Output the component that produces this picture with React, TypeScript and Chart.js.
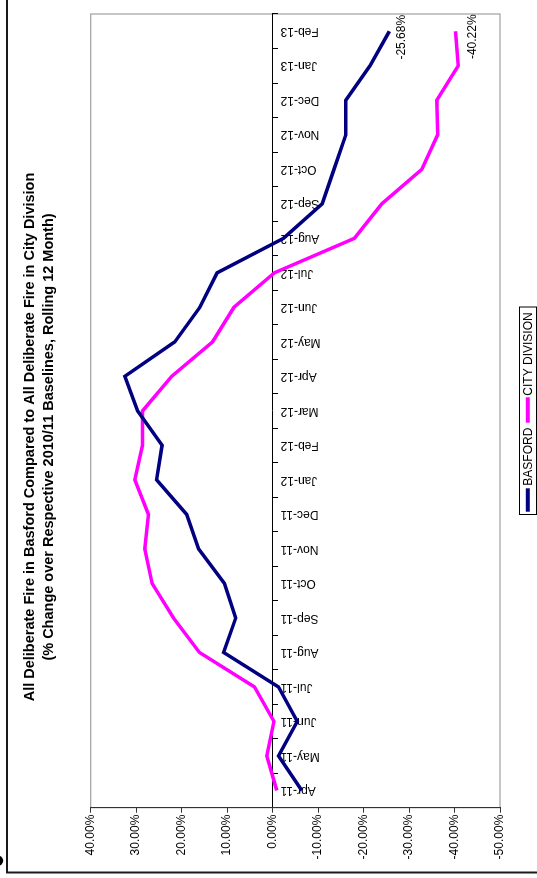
import { useEffect, useRef } from 'react';
import { Chart, registerables } from 'chart.js';

Chart.register(...registerables);

// ---- Data ----
const categories = [
  'Apr-11', 'May-11', 'Jun-11', 'Jul-11', 'Aug-11', 'Sep-11', 'Oct-11', 'Nov-11',
  'Dec-11', 'Jan-12', 'Feb-12', 'Mar-12', 'Apr-12', 'May-12', 'Jun-12', 'Jul-12',
  'Aug-12', 'Sep-12', 'Oct-12', 'Nov-12', 'Dec-12', 'Jan-13', 'Feb-13',
];
const basford = [
  -6.4, -1.3, -5.4, -1.3, 10.8, 8.1, 10.6, 16.3, 18.9, 25.5, 24.3, 29.7,
  32.5, 21.5, 16.0, 12.2, -2.4, -10.9, -13.5, -16.1, -16.1, -21.4, -25.68,
];
const cityDivision = [
  -0.9, 1.3, -0.3, 4.0, 16.1, 21.8, 26.5, 28.1, 27.3, 30.3, 28.6, 28.6,
  22.2, 13.2, 8.5, -0.4, -18.0, -24.0, -32.8, -36.3, -36.1, -40.8, -40.22,
];
const seriesNames = ['BASFORD', 'CITY DIVISION'];
const seriesColors = ['#000080', '#FF00FF'];
const valueMin = -50;
const valueMax = 40;
const valueStep = 10;
const titleLines = [
  'All Deliberate Fire in Basford Compared to All Deliberate Fire in City Division',
  '(% Change over Respective 2010/11 Baselines, Rolling 12 Month)',
];

const W = 878;
const H = 537;
const FONT = '"Liberation Sans", Arial, Helvetica, sans-serif';

const backgroundPlugin = {
  id: 'bgFrame',
  beforeDraw(chart: any) {
    const ctx = chart.ctx as CanvasRenderingContext2D;
    const { left, top, right, bottom } = chart.chartArea;
    ctx.save();
    ctx.fillStyle = '#ffffff';
    ctx.fillRect(0, 0, W, H);
    // outer frame (partly cropped in the reference)
    ctx.strokeStyle = '#1a1a1a';
    ctx.lineWidth = 2;
    ctx.strokeRect(5.5, 7, W + 40, H + 40);
    // small clipped blob at the top-left
    ctx.fillStyle = '#000';
    ctx.beginPath();
    ctx.arc(17.3, -1.7, 5, 0, Math.PI * 2);
    ctx.fill();
    // plot area border
    ctx.strokeStyle = '#a0a0a0';
    ctx.lineWidth = 1.2;
    ctx.strokeRect(left, top, right - left, bottom - top);
    ctx.restore();
  },
};

const labelOffsets = [
  { dx: -6, dy: 12 },
  { dx: -5.5, dy: 17.5 },
];

const endLabelPlugin = {
  id: 'endLabels',
  afterDatasetsDraw(chart: any) {
    const ctx = chart.ctx as CanvasRenderingContext2D;
    ctx.save();
    ctx.font = `12px ${FONT}`;
    ctx.fillStyle = '#000';
    ctx.textAlign = 'center';
    ctx.textBaseline = 'middle';
    chart.data.datasets.forEach((ds: any, i: number) => {
      const meta = chart.getDatasetMeta(i);
      const last = meta.data.length - 1;
      const pt = meta.data[last];
      const v = ds.data[last] as number;
      const off = labelOffsets[i];
      ctx.fillText(v.toFixed(2) + '%', pt.x + off.dx, pt.y + off.dy);
    });
    ctx.restore();
  },
};

const titlePlugin = {
  id: 'customTitle',
  afterDraw(chart: any) {
    const ctx = chart.ctx as CanvasRenderingContext2D;
    ctx.save();
    ctx.font = `bold 14.5px ${FONT}`;
    ctx.fillStyle = '#000';
    ctx.textAlign = 'center';
    ctx.textBaseline = 'middle';
    ctx.fillText(titleLines[0], 441, 30);
    ctx.fillText(titleLines[1], 441, 48.5);
    ctx.restore();
  },
};

const legendPlugin = {
  id: 'customLegend',
  afterDraw(chart: any) {
    const ctx = chart.ctx as CanvasRenderingContext2D;
    ctx.save();
    ctx.strokeStyle = '#000';
    ctx.lineWidth = 1;
    ctx.strokeRect(363.5, 519.5, 207.5, 17);
    const items = [
      { x0: 366.3, x1: 389.7, tx: 392.3 },
      { x0: 455.3, x1: 480.7, tx: 482.3 },
    ];
    ctx.font = `12px ${FONT}`;
    ctx.textBaseline = 'middle';
    ctx.textAlign = 'left';
    chart.data.datasets.forEach((ds: any, i: number) => {
      const it = items[i];
      ctx.strokeStyle = ds.borderColor;
      ctx.lineWidth = 4;
      ctx.beginPath();
      ctx.moveTo(it.x0, 527.8);
      ctx.lineTo(it.x1, 527.8);
      ctx.stroke();
      ctx.fillStyle = '#000';
      ctx.fillText(ds.label, it.tx, 528.3);
    });
    ctx.restore();
  },
};

export default function App() {
  const ref = useRef<HTMLCanvasElement>(null);

  useEffect(() => {
    const canvas = ref.current;
    if (!canvas) return;
    const chart = new Chart(canvas, {
      type: 'line',
      data: {
        labels: categories,
        datasets: [
          {
            label: seriesNames[0],
            data: basford,
            borderColor: seriesColors[0],
            backgroundColor: seriesColors[0],
            borderWidth: 3.5,
            pointRadius: 0,
            tension: 0,
            fill: false,
          },
          {
            label: seriesNames[1],
            data: cityDivision,
            borderColor: seriesColors[1],
            backgroundColor: seriesColors[1],
            borderWidth: 3.5,
            pointRadius: 0,
            tension: 0,
            fill: false,
          },
        ],
      },
      options: {
        animation: false,
        responsive: false,
        maintainAspectRatio: false,
        events: [],
        layout: { padding: { left: 0, top: 90.7, right: 14, bottom: 37 } },
        plugins: {
          legend: { display: false },
          title: { display: false },
          tooltip: { enabled: false },
        },
        scales: {
          x: {
            type: 'category',
            position: { y: 0 } as any,
            offset: true,
            grid: {
              display: true,
              drawOnChartArea: false,
              drawTicks: true,
              tickLength: 5,
              offset: true,
              color: '#000',
            },
            border: { display: true, color: '#000', width: 1 },
            ticks: {
              autoSkip: false,
              minRotation: 90,
              maxRotation: 90,
              padding: 3,
              color: '#000',
              font: { family: FONT, size: 12 },
            },
          },
          y: {
            type: 'linear',
            position: 'left',
            min: valueMin,
            max: valueMax,
            ticks: {
              stepSize: valueStep,
              padding: 2,
              color: '#000',
              font: { family: FONT, size: 12 },
              callback: (v: any) => Number(v).toFixed(2) + '%',
            },
            grid: {
              drawOnChartArea: false,
              drawTicks: true,
              tickLength: 5,
              color: '#333',
            },
            border: { display: true, color: '#333', width: 1 },
            afterFit: (s: any) => {
              s.width = 70.3;
            },
          },
        },
      },
      plugins: [backgroundPlugin, endLabelPlugin, titlePlugin, legendPlugin],
    });
    return () => chart.destroy();
  }, []);

  return (
    <div
      style={{
        position: 'fixed',
        left: 0,
        top: 0,
        width: W,
        height: H,
        transformOrigin: '0 0',
        transform: `translateY(${W}px) rotate(-90deg)`,
        background: '#fff',
      }}
    >
      <canvas ref={ref} width={W} height={H} style={{ display: 'block', width: W, height: H }} />
    </div>
  );
}
